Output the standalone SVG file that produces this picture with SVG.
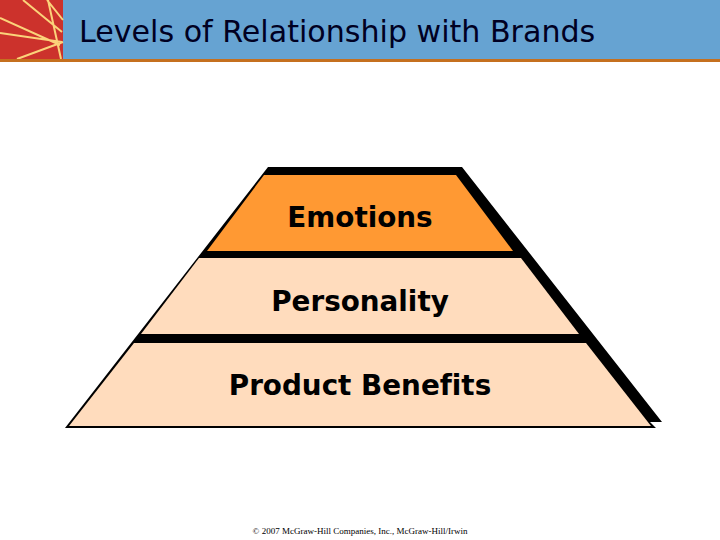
<svg xmlns="http://www.w3.org/2000/svg" width="720" height="540" viewBox="0 0 720 540">
<style>
.lab{font-family:"DejaVu Sans",Verdana,sans-serif;font-weight:700;font-size:27.8px;fill:#000;text-anchor:middle;font-variant-ligatures:none}
.ray{stroke:#fbd37a;stroke-width:2;fill:none}
</style>
<rect width="720" height="540" fill="#fff"/>
<g id="header">
<rect x="0" y="0" width="720" height="60" fill="#66a3d2"/>
<rect x="0" y="0" width="63" height="60" fill="#cc322c"/>
<path class="ray" d="M23 0L62 32M48 0L61 59M0 18L60 45M0 33L62 42M17 59L63 42M47 0L63 20"/>
<rect x="0" y="59" width="720" height="3" fill="#c5701f"/>
<text x="79" y="42" font-family="'DejaVu Sans',Verdana,sans-serif" font-size="30.1" fill="#000022">Levels of Relationship with Brands</text>
</g>
<g id="pyramid-frame">
<polygon points="268,167 462,167 662,422 650,422 656,428 65,428" fill="#000"/>
</g>
<g id="emotions">
<polygon points="264,175 456,175 513,251 207,251" fill="#ff9933"/>
<text class="lab" x="360" y="227">Emotions</text>
</g>
<g id="personality">
<polygon points="199,258 521,258 579,334 141,334" fill="#ffdcbd"/>
<text class="lab" x="360" y="311">Personality</text>
</g>
<g id="product-benefits">
<polygon points="134,343 586,343 651,426 69,426" fill="#ffdcbd"/>
<text class="lab" x="360" y="395">Product Benefits</text>
</g>
<text id="copyright" x="360" y="534" font-family="'Liberation Serif',serif" font-size="9" fill="#000" text-anchor="middle">© 2007 McGraw-Hill Companies, Inc., McGraw-Hill/Irwin</text>
</svg>
